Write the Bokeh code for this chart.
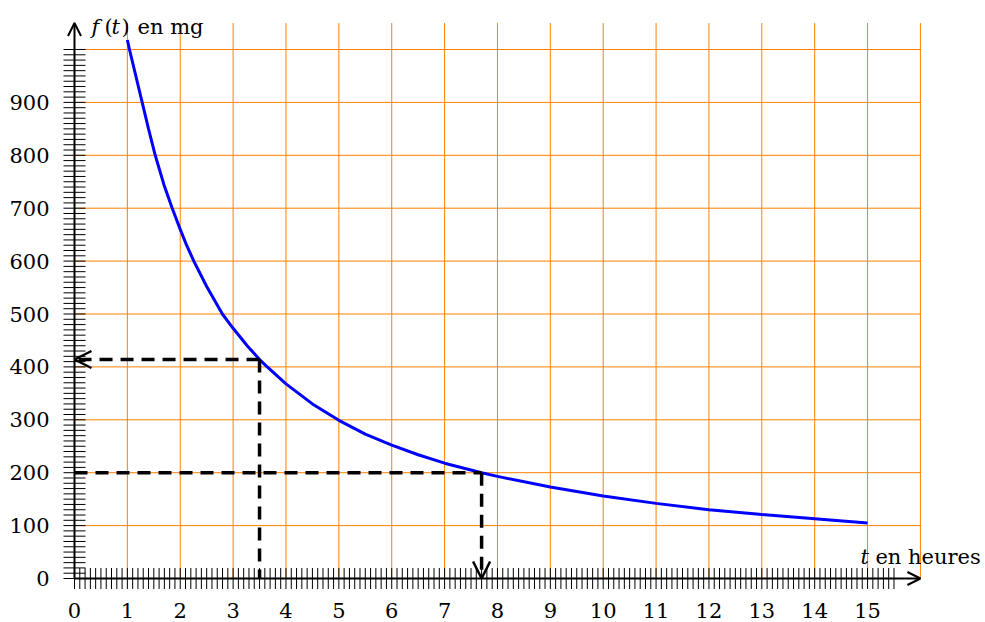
import numpy as np
from bokeh.plotting import figure
from bokeh.models import Range1d, Arrow, OpenHead
from bokeh.core.properties import value
from bokeh.embed import file_html
from bokeh.resources import INLINE

# ---- data ----
t_vals = [1.0, 1.04, 1.28, 1.40, 1.527, 1.69, 1.848, 2.0, 2.12, 2.257, 2.5, 2.797,
          3.0, 3.266, 3.5, 3.625, 4.0, 4.5, 5.0, 5.5, 6.0, 6.5, 7.0, 7.7, 8.0, 9.0,
          10.0, 11.0, 12.0, 13.0, 14.0, 15.0]
f_vals = [1018, 1000, 900, 850, 800, 745, 700, 660, 630, 600, 552, 500,
          473, 440, 414, 402, 368, 330, 299, 273, 252, 234, 218, 200, 193, 173,
          156, 142, 130, 121, 113, 105]

x_tick_pos = list(range(0, 16))
x_tick_labels = [str(v) for v in x_tick_pos]
y_tick_pos = list(range(0, 1000, 100))
y_tick_labels = [str(v) for v in y_tick_pos]
grid_x = list(range(0, 17))
grid_y = list(range(100, 1001, 100))
minor_x = [i / 10 for i in range(0, 156)]
minor_y = list(range(0, 1001, 10))

read_t, read_f = 3.5, 414      # f(3.5) read on the y-axis
solve_f, solve_t = 200, 7.7    # f(t) = 200 read on the t-axis
x_axis_end, y_axis_end = 16, 1050

# ---- geometry ----
W, H = 985, 622
PX_X, PX_Y = 52.87, 0.529
X0_PX, Y0_PX = 74, 578
x0 = -X0_PX / PX_X
x1 = x0 + W / PX_X
y0 = -(H - Y0_PX) / PX_Y
y1 = y0 + H / PX_Y

p = figure(width=W, height=H, x_range=Range1d(x0, x1), y_range=Range1d(y0, y1),
           x_axis_type=None, y_axis_type=None, toolbar_location=None,
           output_backend="svg", min_border=0)
p.outline_line_color = None
p.background_fill_color = "white"
p.border_fill_color = "white"

ORANGE = "#FF8000"
FONT = value("DejaVu Serif")
FS = "21px"

# grid
p.segment(x0=grid_x, y0=[0] * len(grid_x), x1=grid_x, y1=[y_axis_end] * len(grid_x),
          line_color=ORANGE, line_width=1)
p.segment(x0=[0] * len(grid_y), y0=grid_y, x1=[x_axis_end] * len(grid_y), y1=grid_y,
          line_color=ORANGE, line_width=1)

# minor ticks crossing the axes
p.scatter(minor_x, [0] * len(minor_x), marker="dash", angle=np.pi / 2, size=21,
          line_color="black", line_width=1)
p.scatter([0] * len(minor_y), minor_y, marker="dash", size=22,
          line_color="black", line_width=1)

# curve
p.line(t_vals, f_vals, line_color="#0000FF", line_width=3)

# dashed reading lines
DASH = "13 8"
p.line([read_t, read_t], [read_f, 0], line_color="black", line_width=3.5, line_dash=DASH)
p.add_layout(Arrow(x_start=read_t, y_start=read_f, x_end=0, y_end=read_f,
                   line_color="black", line_width=3.5, line_dash=DASH,
                   end=OpenHead(size=17, line_width=2.5, line_color="black")))
p.line([0, solve_t], [solve_f, solve_f], line_color="black", line_width=3.5, line_dash=DASH)
p.add_layout(Arrow(x_start=solve_t, y_start=solve_f, x_end=solve_t, y_end=0,
                   line_color="black", line_width=3.5, line_dash=DASH,
                   end=OpenHead(size=17, line_width=2.5, line_color="black")))

# axes with arrows
p.add_layout(Arrow(x_start=0, y_start=0, x_end=x_axis_end, y_end=0,
                   line_color="black", line_width=2,
                   end=OpenHead(size=13, line_width=2, line_color="black")))
p.add_layout(Arrow(x_start=0, y_start=0, x_end=0, y_end=y_axis_end,
                   line_color="black", line_width=2,
                   end=OpenHead(size=13, line_width=2, line_color="black")))

# tick labels
p.text(x=x_tick_pos, y=[0] * len(x_tick_pos), text=x_tick_labels,
       text_align="center", text_baseline="alphabetic", y_offset=32,
       text_font=FONT, text_font_size=FS, text_color="black")
p.text(x=[0] * len(y_tick_pos), y=y_tick_pos, text=y_tick_labels,
       text_align="right", text_baseline="alphabetic", x_offset=-25, y_offset=0,
       text_font=FONT, text_font_size=FS, text_color="black")

# axis titles
def piece(x, y, s, dx, dy, italic=False):
    p.text(x=[x], y=[y], text=[s], x_offset=dx, y_offset=dy,
           text_align="left", text_baseline="alphabetic",
           text_font=FONT, text_font_size=FS, text_color="black",
           text_font_style="italic" if italic else "normal")

piece(0, 0, "f", 17, -552, True)
piece(0, 0, "(", 30, -552)
piece(0, 0, "t", 37, -552, True)
piece(0, 0, ")", 47, -552)
piece(0, 0, "en mg", 63, -552)
piece(x_axis_end, 0, "t", -60, -22, True)
piece(x_axis_end, 0, "en heures", -45, -22)

open("out.html", "w").write(file_html(p, INLINE))
